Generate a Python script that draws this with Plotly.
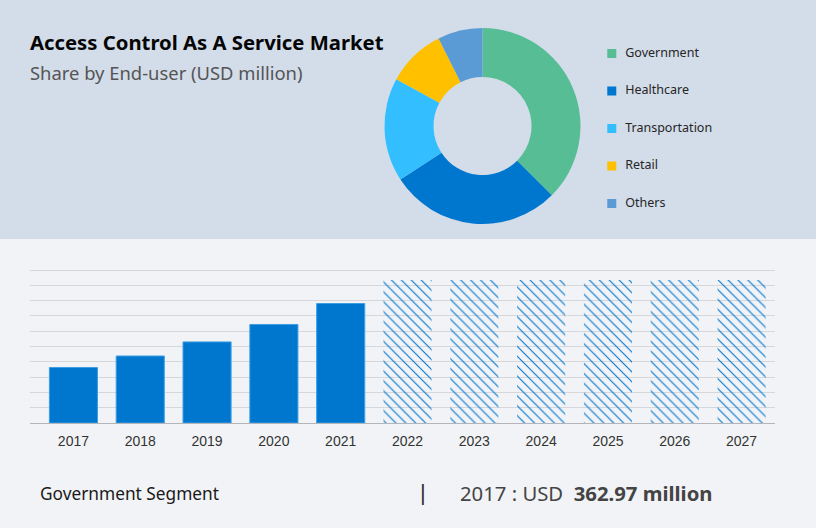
#!/usr/bin/env python3
"""Access Control As A Service market: end-user donut and yearly segment bars"""

import plotly.graph_objects as go

W, H = 816, 528

# Donut data
segments = ["Government", "Healthcare", "Transportation", "Retail", "Others"]
shares = [37.5, 28.3, 17.1, 9.7, 7.4]
segment_colors = ["#56BD94", "#0077CF", "#33BFFF", "#FFC000", "#5B9BD5"]

# Bar data (USD million)
years_actual = ["2017", "2018", "2019", "2020", "2021"]
values_actual = [362.97, 438, 530, 644, 781]
years_forecast = ["2022", "2023", "2024", "2025", "2026", "2027"]
values_forecast = [935, 935, 935, 935, 935, 935]

PANEL_TOP = "#D3DCE9"
PANEL_BOTTOM = "#F2F3F6"
BLUE = "#0077CF"
FONT = "Noto Sans"


def px_x(x):
    return x / W


def px_y(y):
    return 1 - y / H


fig = go.Figure()

# Bars
fig.add_trace(go.Bar(
    x=years_actual, y=values_actual, width=0.72,
    marker=dict(color=BLUE, line=dict(color="#3F9FE3", width=1)),
    showlegend=False,
))
fig.add_trace(go.Bar(
    x=years_forecast, y=values_forecast, width=0.72,
    marker=dict(
        color="rgba(0,0,0,0)",
        line=dict(width=0),
        pattern=dict(shape="\\", size=7, solidity=0.16, fgcolor=BLUE, fgopacity=1,
                     bgcolor="rgba(0,0,0,0)"),
    ),
    showlegend=False,
))

# Donut
fig.add_trace(go.Pie(
    labels=segments, values=shares, hole=0.5, sort=False, direction="clockwise",
    rotation=0, marker=dict(colors=segment_colors, line=dict(width=0)),
    textinfo="none", showlegend=False,
    domain=dict(x=[px_x(384.5), px_x(580.5)], y=[px_y(224), px_y(28)]),
))

# Legend drawn as its own small scatter so the row spacing can follow the picture
fig.add_trace(go.Scatter(
    x=[0] * len(segments), y=segments, xaxis="x2", yaxis="y2",
    mode="markers",
    marker=dict(symbol="square", size=9, color=segment_colors),
    showlegend=False,
))
fig.add_trace(go.Scatter(
    x=[0.08] * len(segments), y=segments, xaxis="x2", yaxis="y2",
    mode="text",
    text=segments, textposition="middle right",
    textfont=dict(family=FONT, size=12.5, color="#262626"),
    showlegend=False,
))

fig.update_layout(
    width=W, height=H,
    margin=dict(l=0, r=0, t=0, b=0),
    paper_bgcolor=PANEL_BOTTOM,
    plot_bgcolor="rgba(0,0,0,0)",
    barmode="overlay",
    xaxis=dict(
        domain=[px_x(30), px_x(775)],
        type="category",
        categoryorder="array",
        categoryarray=years_actual + years_forecast,
        range=[-0.65, 10.5],
        showgrid=False, ticks="", ticklabelstandoff=5,
        showline=True, linecolor="#B4B5B9", linewidth=1,
        tickfont=dict(family="Liberation Sans", size=14, color="#333333"),
    ),
    yaxis=dict(
        # a few px of headroom, plotly drops a gridline sitting on the plot edge
        domain=[px_y(423), px_y(265)],
        range=[0, 1032.7], dtick=100,
        showticklabels=False, ticks="",
        gridcolor="#D6D7DB", gridwidth=1, zeroline=False,
    ),
    xaxis2=dict(
        domain=[px_x(600), px_x(780)], anchor="y2",
        range=[-0.07, 1], visible=False,
    ),
    yaxis2=dict(
        domain=[px_y(226), px_y(34.75)], anchor="x2",
        type="category", autorange=False, range=[4.6, -0.5], visible=False,
    ),
    shapes=[dict(
        type="rect", xref="paper", yref="paper", layer="below",
        x0=0, x1=1, y0=px_y(239), y1=1,
        fillcolor=PANEL_TOP, line=dict(width=0),
    )],
    annotations=[
        dict(text="<b>Access Control As A Service Market</b>", x=px_x(28), y=px_y(42.5),
             font=dict(family=FONT, size=20.3, color="#050505")),
        dict(text="Share by End-user (USD million)", x=px_x(28), y=px_y(73),
             font=dict(family=FONT, size=18.4, color="#555555")),
        dict(text="Government Segment", x=px_x(38), y=px_y(493),
             font=dict(family=FONT, size=17.3, color="#1A1A1A")),
        dict(text="|", x=px_x(418), y=px_y(492),
             font=dict(family="Liberation Sans", size=22, color="#333333")),
        dict(text="2017 : USD  <b>362.97 million</b>", x=px_x(458), y=px_y(493),
             font=dict(family=FONT, size=20.3, color="#444444")),
    ],
)
for ann in fig.layout.annotations:
    ann.update(xref="paper", yref="paper", xanchor="left", yanchor="middle",
               showarrow=False, align="left")

fig.write_html(
    "out.html",
    config={"displayModeBar": False},
    post_script="document.body.style.margin='0';",
)
